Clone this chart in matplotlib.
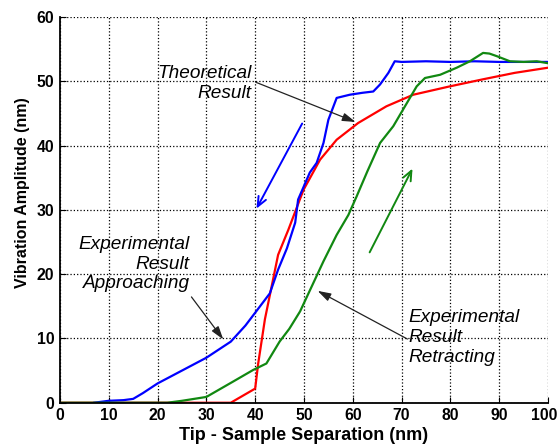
import matplotlib.pyplot as plt
import matplotlib.transforms as mtransforms

plt.rcParams['font.family'] = ['Liberation Sans', 'DejaVu Sans']

# theoretical curve
x_theo = [0, 35, 40, 40.6, 42, 44.7, 46.8, 49.9, 53.3, 56.7, 61.1, 66.9, 72.4, 79.9, 86.7, 93.2, 100]
y_theo = [0, 0, 2.2, 6, 13, 23, 26.9, 33.1, 37.8, 40.9, 43.5, 46.1, 47.9, 49.2, 50.3, 51.3, 52.1]

# experimental, approaching
x_app = [7, 10, 13, 15, 17, 20, 25, 30, 35, 38, 40, 43, 44.7, 46.5, 48.2, 48.8, 51.2, 52.6, 54, 55,
         56.7, 59.4, 62, 64.2, 65.6, 67.3, 68.6, 70, 75, 80, 85, 90, 95, 100]
y_app = [0, 0.3, 0.4, 0.6, 1.5, 3, 5, 7, 9.5, 12, 14, 17, 20.7, 24, 28, 31.6, 35.8, 37.3, 40.4, 44,
         47.4, 47.9, 48.2, 48.4, 49.5, 51.3, 53.1, 53, 53.1, 53, 53.1, 53, 53, 53]

# experimental, retracting
x_ret = [0, 22, 25, 30, 35.5, 39.6, 42.3, 45, 47, 49.2, 51.6, 54, 56.7, 59.1, 60.8, 63, 65.6,
         68.3, 70.7, 73.1, 74.8, 77.9, 81.3, 84, 86.7, 88, 89.5, 92.2, 95, 97.7, 100]
y_ret = [0, 0, 0.3, 0.9, 3.3, 5.1, 6.1, 9.5, 11.5, 14.2, 18.1, 22, 26.1, 29.2, 32.1, 36, 40.4,
         43, 46.1, 49.2, 50.5, 51, 52.1, 53.1, 54.4, 54.3, 53.9, 53.1, 53, 53.1, 52.8]

fig = plt.figure(figsize=(5.58, 4.45), dpi=100)
ax = fig.add_axes([0.1075, 0.095, 0.8745, 0.867])

ax.plot(x_theo, y_theo, color='#ff0000', lw=1.6)
ax.plot(x_app, y_app, color='#0000ff', lw=1.6)
ax.plot(x_ret, y_ret, color='#118811', lw=1.6)

ax.set_xlim(0, 100)
ax.set_ylim(0, 60)
ax.set_xticks(range(0, 101, 10))
ax.set_yticks(range(0, 61, 10))
ax.grid(True, color='black', linestyle=':', linewidth=0.9)
ax.spines['top'].set_visible(False)
ax.spines['right'].set_visible(False)
ax.spines['left'].set_linewidth(1.3)
ax.spines['bottom'].set_linewidth(1.3)
ax.tick_params(direction='in', length=4, pad=4)
for lab in ax.get_xticklabels() + ax.get_yticklabels():
    lab.set_fontweight('bold')
    lab.set_fontsize(11.3)
# keep "100" inside the canvas
last = ax.get_xticklabels()[-1]
last.set_transform(last.get_transform() + mtransforms.ScaledTranslation(-4 / 100, 0, fig.dpi_scale_trans))

ax.set_xlabel('Tip - Sample Separation (nm)', fontsize=13, fontweight='bold', labelpad=3)
ax.set_ylabel('Vibration Amplitude (nm)', fontsize=11.5, fontweight='bold')
ax.yaxis.set_label_coords(-0.062, 0.545)

# direction arrows
ax.annotate('', xy=(40, 29.8), xytext=(49.9, 43.8),
            arrowprops=dict(arrowstyle='->,head_length=0.7,head_width=0.3', color='#0000ff', lw=1.4))
ax.annotate('', xy=(72.5, 36.8), xytext=(63.2, 23),
            arrowprops=dict(arrowstyle='->,head_length=0.7,head_width=0.3', color='#118811', lw=1.4))

# labels with pointers
black = dict(arrowstyle='-|>,head_length=0.8,head_width=0.25', color='#222222', lw=0.9)
fs = 13.7
ax.text(39.3, 47.4, 'Theoretical\nResult', ha='right', va='baseline', fontsize=fs,
        style='italic', linespacing=1.25)
ax.annotate('', xy=(61.1, 43.5), xytext=(39.6, 50.0), arrowprops=black)

ax.text(26.6, 17.8, 'Experimental\nResult\nApproaching', ha='right', va='baseline', fontsize=fs,
        style='italic', linespacing=1.2)
ax.annotate('', xy=(33.8, 9.5), xytext=(26.6, 16.8), arrowprops=black)

ax.text(71.4, 6.4, 'Experimental\nResult\nRetracting', ha='left', va='baseline', fontsize=fs,
        style='italic', linespacing=1.2)
ax.annotate('', xy=(52.3, 17.6), xytext=(71.7, 9.7), arrowprops=black)

fig.savefig('out.png', dpi=100)
